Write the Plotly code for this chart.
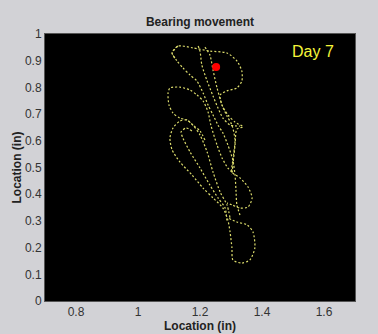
import plotly.graph_objects as go

# Trajectory strands (Location in inches)
strand1_x = [1.119, 1.110, 1.129, 1.177, 1.232, 1.287, 1.319, 1.335, 1.335, 1.319, 1.287, 1.265, 1.271, 1.290, 1.313, 1.339, 1.319, 1.313, 1.306, 1.303]
strand1_y = [0.910, 0.929, 0.955, 0.948, 0.936, 0.929, 0.899, 0.861, 0.824, 0.798, 0.787, 0.772, 0.734, 0.697, 0.670, 0.652, 0.644, 0.584, 0.509, 0.472]

strand2_x = [1.129, 1.110, 1.126, 1.145, 1.168, 1.190, 1.210, 1.226, 1.242, 1.258, 1.274, 1.290, 1.306, 1.313, 1.316, 1.319, 1.329]
strand2_y = [0.955, 0.929, 0.899, 0.873, 0.846, 0.824, 0.779, 0.734, 0.697, 0.659, 0.629, 0.584, 0.528, 0.472, 0.416, 0.360, 0.322]

strand3_x = [1.194, 1.200, 1.206, 1.223, 1.242, 1.258, 1.274, 1.297, 1.329]
strand3_y = [0.955, 0.936, 0.884, 0.824, 0.768, 0.723, 0.685, 0.659, 0.655]

strand4_x = [1.303, 1.290, 1.271, 1.255, 1.235, 1.226, 1.210, 1.190, 1.168, 1.135, 1.103, 1.097, 1.100, 1.113, 1.135, 1.158, 1.177, 1.200, 1.223, 1.242, 1.265, 1.287, 1.297]
strand4_y = [0.483, 0.498, 0.536, 0.584, 0.659, 0.708, 0.749, 0.772, 0.790, 0.801, 0.798, 0.779, 0.734, 0.704, 0.685, 0.678, 0.659, 0.622, 0.558, 0.483, 0.408, 0.360, 0.311]

strand5_x = [1.216, 1.200, 1.177, 1.158, 1.135, 1.113, 1.103, 1.110, 1.135, 1.174, 1.210, 1.242, 1.274, 1.290, 1.297, 1.303, 1.306, 1.335, 1.361, 1.377, 1.371, 1.352, 1.319, 1.290]
strand5_y = [0.603, 0.637, 0.659, 0.678, 0.674, 0.648, 0.610, 0.566, 0.521, 0.472, 0.423, 0.386, 0.348, 0.303, 0.258, 0.199, 0.154, 0.142, 0.154, 0.199, 0.258, 0.285, 0.296, 0.311]

strand6_x = [1.174, 1.155, 1.139, 1.145, 1.168, 1.200, 1.232, 1.258, 1.281, 1.287]
strand6_y = [0.637, 0.648, 0.633, 0.610, 0.558, 0.498, 0.434, 0.386, 0.348, 0.296]

strand7_x = [1.216, 1.232, 1.242, 1.255, 1.271, 1.287, 1.303, 1.313, 1.306, 1.303, 1.329, 1.355, 1.368, 1.355, 1.329, 1.303, 1.287]
strand7_y = [0.951, 0.921, 0.865, 0.798, 0.734, 0.693, 0.659, 0.603, 0.528, 0.483, 0.461, 0.427, 0.386, 0.352, 0.348, 0.360, 0.367]

current_x = [1.252]
current_y = [0.876]

x_ticks = [0.8, 1.0, 1.2, 1.4, 1.6]
x_tick_labels = ["0.8", "1", "1.2", "1.4", "1.6"]
y_ticks = [0, 0.1, 0.2, 0.3, 0.4, 0.5, 0.6, 0.7, 0.8, 0.9, 1.0]
y_tick_labels = ["0", "0.1", "0.2", "0.3", "0.4", "0.5", "0.6", "0.7", "0.8", "0.9", "1"]

day_label = "Day 7"

strands = [
    (strand1_x, strand1_y), (strand2_x, strand2_y), (strand3_x, strand3_y),
    (strand4_x, strand4_y), (strand5_x, strand5_y), (strand6_x, strand6_y),
    (strand7_x, strand7_y),
]

fig = go.Figure()
for sx, sy in strands:
    fig.add_trace(go.Scatter(
        x=sx, y=sy, mode="lines",
        line=dict(color="#dcdc6c", width=1.2, dash="2px,2px", shape="spline", smoothing=0.7),
        hoverinfo="skip", showlegend=False,
    ))

fig.add_trace(go.Scatter(
    x=current_x, y=current_y, mode="markers",
    marker=dict(color="#ff0000", size=8, line=dict(width=0)),
    showlegend=False,
))

fig.add_annotation(
    x=1.565, y=0.936, xref="x", yref="y", text=day_label, showarrow=False,
    font=dict(family="Liberation Sans, Arial", size=16, color="#f5f53a"),
)

fnt = "Liberation Sans, Arial"
axis_font = dict(family=fnt, size=12, color="#333333")
title_font = dict(family=fnt, size=12, color="#222222")
fig.update_layout(
    width=378, height=334,
    margin=dict(l=45, r=23, t=34, b=33, autoexpand=False),
    paper_bgcolor="#d2d2d6",
    plot_bgcolor="#000000",
    title=dict(text="<b>Bearing movement</b>", x=0.529, xanchor="center",
               y=0.935, yref="container", yanchor="middle", font=title_font),
    xaxis=dict(range=[0.7, 1.7], tickvals=x_ticks, ticktext=x_tick_labels, showgrid=False,
               zeroline=False, showline=True, linecolor="#555555", mirror=True, ticks="",
               tickfont=axis_font, automargin=False,
               title=dict(text="<b>Location (in)</b>", font=title_font, standoff=0)),
    yaxis=dict(range=[0, 1], tickvals=y_ticks, ticktext=y_tick_labels, showgrid=False,
               zeroline=False, showline=True, linecolor="#555555", mirror=True, ticks="",
               tickfont=axis_font, automargin=False,
               title=dict(text="<b>Location (in)</b>", font=title_font, standoff=0)),
)

fig.write_html("out.html", config={"displayModeBar": False},
               post_script="document.body.style.margin='0';document.body.style.overflow='hidden';")
